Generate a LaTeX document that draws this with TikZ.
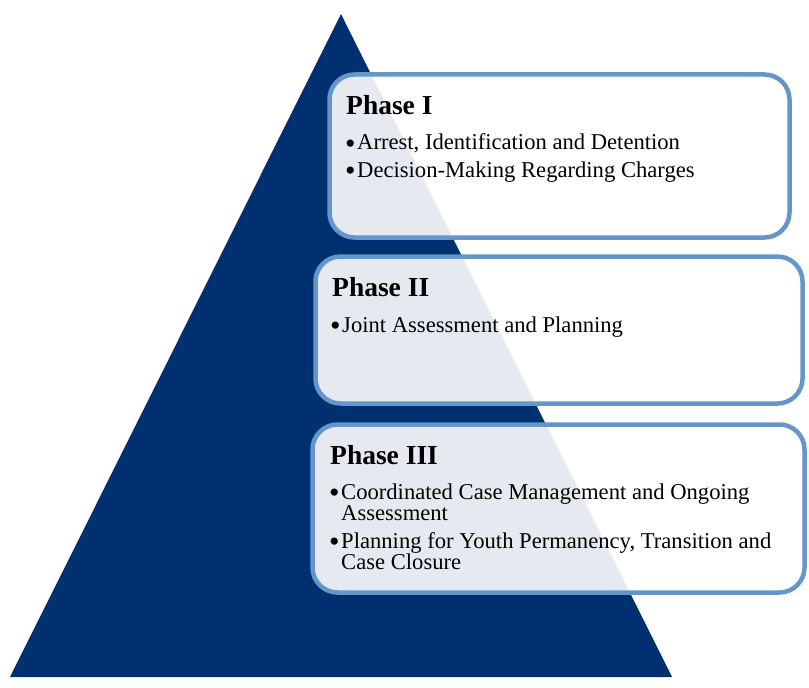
\documentclass[tikz,border=0pt]{standalone}
\usepackage{fontspec}
\setmainfont{Liberation Serif}
\definecolor{navy}{RGB}{0,48,112}
\definecolor{edgeblue}{RGB}{100,150,202}
\begin{document}
\begin{tikzpicture}[x=1bp,y=-1bp,
  phasebox/.style={draw=edgeblue, line width=4.5bp, rounded corners=25bp, fill=white, fill opacity=0.9, inner sep=0pt},
  head/.style={anchor=base west, inner sep=0pt, font=\fontsize{27.6}{30}\selectfont\bfseries},
  item/.style={anchor=base west, inner sep=0pt, align=left, font=\fontsize{22.7}{21}\selectfont},
  dot/.style={anchor=base west, inner sep=0pt, font=\fontsize{30}{30}\selectfont}]
\useasboundingbox (0,0) rectangle (809,688);
\fill[navy] (341,14) -- (10,677) -- (672,677) -- cycle;
\node[phasebox, minimum width=460bp, minimum height=163bp] (b1) at (559.5,156) {};
\node[phasebox, minimum width=487bp, minimum height=147bp] (b2) at (559,330) {};
\node[phasebox, minimum width=492bp, minimum height=168bp] (b3) at (558.5,508.5) {};
% Phase I
\node[head] (h1) at (346,115) {Phase I};
\node[dot] (d11) at (345,153.5) {•};
\node[item] (t11) at (357,150) {Arrest, Identification and Detention};
\node[dot] (d12) at (345,180.5) {•};
\node[item] (t12) at (357,177) {Decision-Making Regarding Charges};
% Phase II
\node[head] (h2) at (332,296) {Phase II};
\node[dot] (d21) at (330,335.5) {•};
\node[item] (t21) at (342,332) {Joint Assessment and Planning};
% Phase III
\node[head] (h3) at (330,464) {Phase III};
\node[dot] (d31) at (329,502.5) {•};
\node[item] (t31) at (341,520) {Coordinated Case Management and Ongoing\\Assessment};
\node[dot] (d33) at (329,551.5) {•};
\node[item] (t33) at (341,569) {Planning for Youth Permanency, Transition and\\Case Closure};
\end{tikzpicture}
\end{document}
